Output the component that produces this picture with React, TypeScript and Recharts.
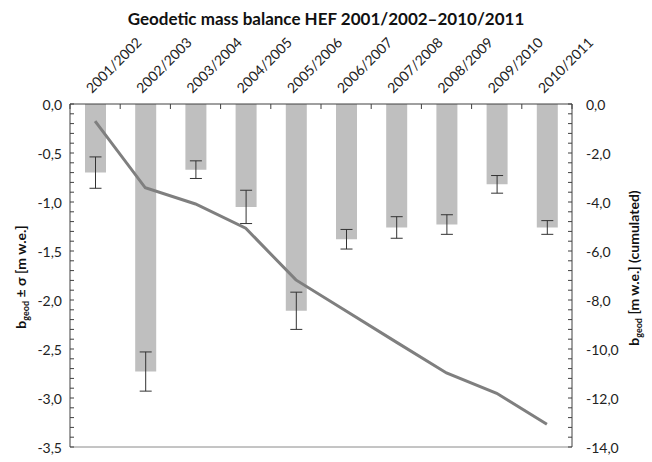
import React from 'react';
import { ComposedChart, Bar, Line, XAxis, YAxis, ErrorBar, ReferenceLine } from 'recharts';

const seasons = [
  '2001/2002', '2002/2003', '2003/2004', '2004/2005', '2005/2006',
  '2006/2007', '2007/2008', '2008/2009', '2009/2010', '2010/2011',
];
// annual geodetic balance and its uncertainty (m w.e.)
const balance = [-0.70, -2.73, -0.67, -1.05, -2.11, -1.38, -1.26, -1.23, -0.82, -1.26];
const sigma = [0.16, 0.20, 0.09, 0.17, 0.19, 0.10, 0.11, 0.10, 0.09, 0.07];
// cumulated balance (m w.e.)
const cumulated = [-0.70, -3.42, -4.08, -5.07, -7.18, -8.45, -9.72, -10.98, -11.81, -13.07];

const leftMajor = [0, -0.5, -1, -1.5, -2, -2.5, -3, -3.5];
const rightMajor = [0, -2, -4, -6, -8, -10, -12, -14];

// five minor steps between each pair of major ticks
const withMinor = (major: number[]) => {
  const out: number[] = [];
  for (let i = 0; i < major.length - 1; i++) {
    const step = (major[i + 1] - major[i]) / 5;
    for (let k = 0; k < 5; k++) out.push(+(major[i] + k * step).toFixed(3));
  }
  out.push(major[major.length - 1]);
  return out;
};

const data = seasons.map((season, i) => ({
  season,
  balance: balance[i],
  sigma: sigma[i],
  cumulated: cumulated[i],
}));

const FONT = 'Lato, "Open Sans", sans-serif';
const AXIS = '#404040';
const fmt = (v: number) => v.toFixed(1).replace('.', ',');

const isMajor = (v: number, major: number[]) => major.some((m) => Math.abs(m - v) < 1e-6);

const LeftTick = (props: any) => {
  const { x, y, payload } = props;
  const major = isMajor(payload.value, leftMajor);
  return (
    <g>
      <line x1={x} x2={x + 4} y1={y} y2={y} stroke={AXIS} strokeWidth={1} />
      {major && (
        <text x={x - 8} y={y} textAnchor="end" dominantBaseline="central" fontSize={14} fill="#222" fontFamily={FONT}>
          {fmt(payload.value)}
        </text>
      )}
    </g>
  );
};

const RightTick = (props: any) => {
  const { x, y, payload } = props;
  const major = isMajor(payload.value, rightMajor);
  return (
    <g>
      <line x1={x - 4} x2={x} y1={y} y2={y} stroke={AXIS} strokeWidth={1} />
      {major && (
        <text x={x + 14} y={y} textAnchor="start" dominantBaseline="central" fontSize={14} fill="#222" fontFamily={FONT}>
          {fmt(payload.value)}
        </text>
      )}
    </g>
  );
};

const HALF_BAND = 25.1;

const SeasonTick = (props: any) => {
  const { x, y, payload, index, visibleTicksCount } = props;
  return (
    <g>
      <line x1={x - HALF_BAND} x2={x - HALF_BAND} y1={y} y2={y + 5} stroke={AXIS} />
      {index === visibleTicksCount - 1 && (
        <line x1={x + HALF_BAND} x2={x + HALF_BAND} y1={y} y2={y + 5} stroke={AXIS} />
      )}
      <text
        x={x - 3}
        y={y - 10}
        textAnchor="start"
        fontSize={14}
        fill="#222"
        fontFamily={FONT}
        transform={`rotate(-45, ${x - 3}, ${y - 10})`}
      >
        {payload.value}
      </text>
    </g>
  );
};

const axisTitle: React.CSSProperties = {
  position: 'absolute',
  transform: 'translate(-50%, -50%) rotate(-90deg)',
  whiteSpace: 'nowrap',
  fontWeight: 700,
  fontSize: 14,
  color: '#111',
};

const sub: React.CSSProperties = { fontSize: 9, verticalAlign: -3 };

export default function App() {
  return (
    <div style={{ position: 'absolute', left: 0, top: 0, width: 652, height: 462, background: '#fff', fontFamily: FONT }}>
      <div
        style={{
          position: 'absolute',
          left: 326,
          top: 18,
          transform: 'translate(-50%, -50%)',
          whiteSpace: 'nowrap',
          fontWeight: 700,
          fontSize: 17,
          color: '#111',
        }}
      >
        Geodetic mass balance HEF 2001/2002–2010/2011
      </div>
      <div style={{ ...axisTitle, left: 21, top: 277 }}>
        b<span style={sub}>geod</span> ± σ [m w.e.]
      </div>
      <div style={{ ...axisTitle, left: 634, top: 268 }}>
        b<span style={sub}>geod</span> [m w.e.] (cumulated)
      </div>
      <ComposedChart width={652} height={462} data={data} margin={{ top: 64, right: 20, bottom: 15, left: 10 }}>
        <XAxis
          dataKey="season"
          orientation="top"
          height={40}
          interval={0}
          tickSize={0}
          tickMargin={0}
          tickLine={false}
          axisLine={{ stroke: AXIS }}
          tick={<SeasonTick />}
        />
        <YAxis
          yAxisId="left"
          orientation="left"
          width={60}
          domain={[-3.5, 0]}
          ticks={withMinor(leftMajor)}
          interval={0}
          tickSize={0}
          tickMargin={0}
          tickLine={false}
          axisLine={{ stroke: AXIS }}
          tick={<LeftTick />}
        />
        <YAxis
          yAxisId="right"
          orientation="right"
          width={60}
          domain={[-14, 0]}
          ticks={withMinor(rightMajor)}
          interval={0}
          tickSize={0}
          tickMargin={0}
          tickLine={false}
          axisLine={{ stroke: AXIS }}
          tick={<RightTick />}
        />
        <ReferenceLine yAxisId="left" y={-3.5} stroke="#8a8a8a" strokeWidth={1} />
        <Bar yAxisId="left" dataKey="balance" fill="#bfbfbf" barSize={21} isAnimationActive={false}>
          <ErrorBar dataKey="sigma" width={6} stroke="#333" strokeWidth={1} direction="y" />
        </Bar>
        <Line
          yAxisId="right"
          type="linear"
          dataKey="cumulated"
          stroke="#7f7f7f"
          strokeWidth={3}
          dot={false}
          isAnimationActive={false}
        />
      </ComposedChart>
    </div>
  );
}
